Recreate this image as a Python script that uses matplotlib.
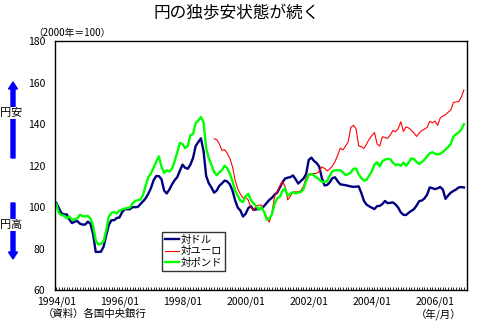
import numpy as np
import matplotlib
matplotlib.use('Agg')
import matplotlib.pyplot as plt

plt.rcParams['font.family'] = ['Noto Sans CJK JP', 'DejaVu Sans']

# monthly index values (2000 = 100), 1994/01 - 2006/12
usd = [102, 99.5, 97, 96.5, 96.5, 94, 92.3, 93, 93.3, 92, 91.6, 91.6,
       93, 92, 87, 78.4, 78.4, 78.5, 81, 86.5, 91.5, 93.7, 93.7, 94.8,
       95, 97.5, 99, 99, 99, 100, 100, 100.1, 101.5, 102.8, 104.3, 106.5,
       109.2, 113, 115, 115, 113.5, 108, 106.6, 108.5, 111, 113, 114.5, 117.6,
       120.5, 119, 118.5, 120.5, 123.7, 129.5, 131.4, 133.2, 127, 115, 111.5, 109.5,
       107, 108, 110.3, 111.5, 112.8, 112.4, 111, 108, 103.3, 99.8, 98.4, 95.5,
       96.8, 99.5, 100.5, 98.6, 99, 99, 99.5, 100.5, 102, 103.5, 104.5, 106,
       107, 109.5, 112, 113.8, 114.2, 114.5, 115.3, 113.5, 111.4, 112.6, 113.8, 116,
       122.8, 123.9, 122.3, 121.3, 119.5, 114, 110.5, 110.7, 112, 114, 114.4, 112.5,
       111, 110.8, 110.6, 110.3, 110, 109.8, 109.9, 110, 106.8, 103, 101.2, 100.4,
       99.7, 99.1, 100.5, 100.6, 101.5, 103, 101.9, 102.1, 102.3, 101.3, 99.8, 97.5,
       96.3, 96.2, 97.3, 98.2, 99, 100.8, 102.9, 103.2, 104.2, 106, 109.5, 109.2,
       108.7, 109.1, 109.7, 108.5, 104, 105.6, 107, 107.8, 108.5, 109.5, 109.7, 109.5]

# euro starts 1999/01
eur = [133, 132.6, 130.5, 127.4, 127.7, 126, 123.5, 119.5, 113, 108.8, 106.3, 104.5,
       104.8, 103.4, 100, 98.5, 100.5, 101, 101, 97.8, 95.2, 92.8, 97.5, 105,
       107.5, 110.3, 112.3, 110, 103.5, 105.3, 107.3, 107.4, 107.4, 108, 110, 114.3,
       116, 116.2, 116.2, 116.3, 117.4, 119.4, 118.7, 117.5, 118.5, 119.8, 122, 125,
       128.5, 127.6, 129.5, 131.5, 138.5, 139.5, 137.8, 129.5, 129.2, 128.3, 130.5, 132.8,
       134.5, 136, 130.5, 129.5, 134, 133.5, 133.2, 134.8, 137, 136.4, 137.8, 141.2,
       136.5, 138.7, 138.2, 137.1, 135.8, 134.1, 135.8, 137, 137.6, 138.5, 141.4, 140.7,
       141.5, 139.5, 143, 144, 144.6, 145.8, 146.8, 150.5, 150.8, 150.9, 153, 156.5]

gbp = [101.5, 97, 96.2, 95.8, 94.6, 95.5, 93.8, 94.2, 94.6, 96.3, 95.7, 95.5,
       95.8, 94.6, 91, 84, 82, 82.3, 83.5, 89, 95.5, 97.2, 97.7, 97,
       98.2, 98.9, 99.3, 99.6, 99.8, 101.8, 103, 103.4, 103.6, 106, 110.5, 114.4,
       116.3, 119, 122, 124.5, 119.5, 116.5, 117.8, 117.2, 118.5, 122, 126.5, 131,
       130.5, 128.5, 129.5, 134.7, 135.3, 140.5, 141.8, 143.5, 141, 128.5, 123.5, 120.5,
       117, 115.4, 116.8, 117.9, 120, 118.8, 116.2, 112.5, 108.1, 105.5, 103, 102.5,
       105.3, 106.4, 103.5, 101.8, 100.5, 98.8, 100, 97.8, 94, 94.4, 96.5, 101.5,
       104.3, 105, 107.8, 109, 105.5, 106.5, 107.2, 106.7, 107, 107.3, 108.6, 112.6,
       115.5, 116, 115.2, 114.3, 113.4, 112.2, 112.2, 112.5, 115.2, 117.3, 117.8, 117.8,
       117.8, 116.8, 115.5, 115.9, 116.8, 118.5, 118.6, 115.8, 114, 112.8, 113.2, 115.2,
       117.3, 120.6, 121.7, 119.6, 122.2, 123, 123.3, 123.1, 121.5, 120.3, 120.7, 119.9,
       121.5, 120, 121.5, 123.5, 123.2, 121.8, 120.8, 121.8, 122.9, 124.5, 126, 126.5,
       125.8, 125.5, 125.7, 126.6, 127.8, 129, 130.5, 134, 135.2, 136, 137.5, 140]

tick_labels = ['1994/01', '1996/01', '1998/01', '2000/01', '2002/01', '2004/01', '2006/01']
series_names = ['対ドル', '対ユーロ', '対ポンド']

months = np.arange(len(usd))
eur_months = np.arange(len(usd) - len(eur), len(usd))

fig = plt.figure(figsize=(4.78, 3.23), dpi=100)
ax = fig.add_axes([0.115, 0.102, 0.861, 0.770])

ax.plot(months, usd, color='#000080', lw=1.7, label=series_names[0])
ax.plot(eur_months, eur, color='#ff0000', lw=0.8, label=series_names[1])
ax.plot(months, gbp, color='#00ff00', lw=1.7, label=series_names[2])

ax.set_xlim(-0.5, 156)
ax.set_ylim(60, 180)
ax.set_yticks(range(60, 181, 20))
ax.set_xticks(range(0, 156, 24))
ax.set_xticklabels(tick_labels)
ax.set_xticks(range(0, 156), minor=True)
ax.tick_params(axis='y', length=0, pad=7, labelsize=7.5)
ax.tick_params(axis='x', which='both', direction='in', length=2, width=0.6,
               pad=5, labelsize=7.5)
for s in ax.spines.values():
    s.set_linewidth(1)
    s.set_color('black')

leg = ax.legend(loc='lower left', bbox_to_anchor=(0.26, 0.076), borderaxespad=0,
                fontsize=7.5, frameon=True, fancybox=False, handlelength=1.3,
                handletextpad=0.2, borderpad=0.3, labelspacing=0.15)
leg.get_frame().set_edgecolor('black')
leg.get_frame().set_linewidth(1)

fig.text(0.496, 0.958, '円の独歩安状態が続く', ha='center', va='center', fontsize=12)
fig.text(0.07, 0.898, '（2000年＝100）', ha='left', va='center', fontsize=7)
fig.text(0.09, 0.028, '（資料）各国中央銀行', ha='left', va='center', fontsize=7.5)
fig.text(0.965, 0.028, '（年/月）', ha='right', va='center', fontsize=7.5)

# yen weaker / stronger arrows
ax_x = 13 / 478
fig.patches.append(matplotlib.patches.FancyArrow(
    ax_x, 1 - 158 / 323, 0, (158 - 82) / 323, width=4 / 478, head_width=9 / 478,
    head_length=7 / 323, color='#0000ff', transform=fig.transFigure, length_includes_head=True))
fig.patches.append(matplotlib.patches.FancyArrow(
    ax_x, 1 - 203 / 323, 0, -(259 - 203) / 323, width=4 / 478, head_width=9 / 478,
    head_length=7 / 323, color='#0000ff', transform=fig.transFigure, length_includes_head=True))
fig.text(11.5 / 478, 1 - 113 / 323, '円安', ha='center', va='center', fontsize=8,
         bbox=dict(facecolor='white', edgecolor='none', pad=1))
fig.text(11.5 / 478, 1 - 225 / 323, '円高', ha='center', va='center', fontsize=8,
         bbox=dict(facecolor='white', edgecolor='none', pad=1))

fig.savefig('out.png', dpi=100, facecolor='white')
